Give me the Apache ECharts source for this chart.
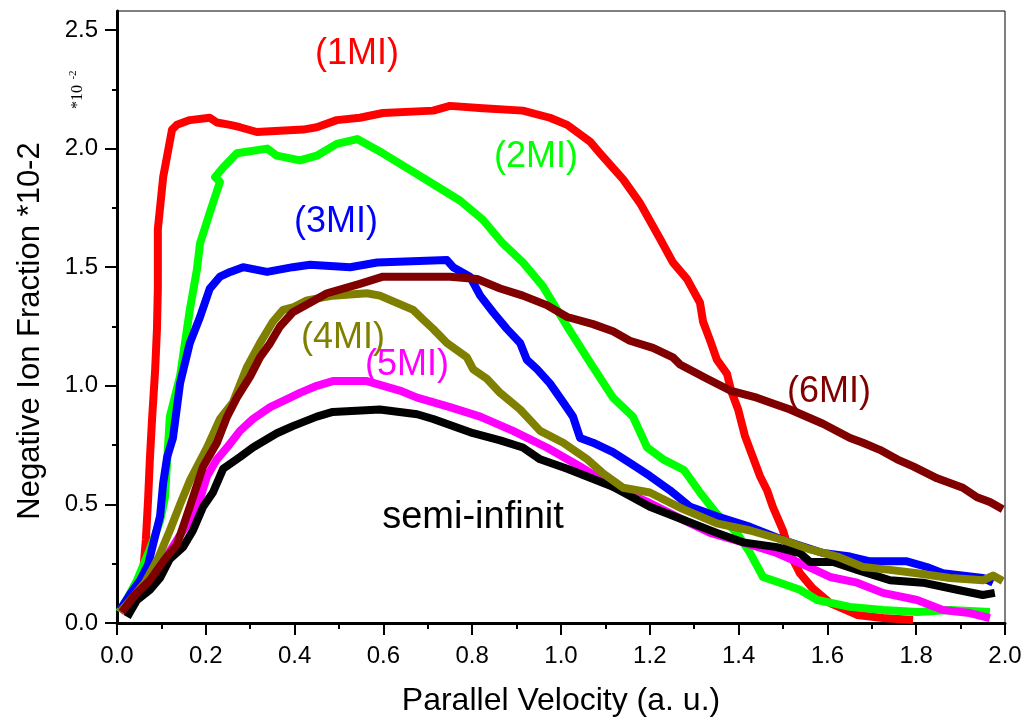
<!DOCTYPE html>
<html>
<head>
<meta charset="utf-8">
<script src="https://cdn.jsdelivr.net/npm/echarts@6/dist/echarts.min.js"></script>
<style>
  html, body { margin: 0; padding: 0; background: #fff; }
  #chart { width: 1028px; height: 722px; }
</style>
</head>
<body>
<div id="chart"></div>
<script>
// [velocity, fraction*10^-2]
var mi1 = [[0.018,0.076],[0.041,0.14],[0.059,0.22],[0.065,0.35],[0.07,0.52],[0.074,0.69],[0.079,0.86],[0.086,1.07],[0.09,1.24],[0.092,1.41],[0.092,1.66],[0.104,1.88],[0.113,1.97],[0.124,2.08],[0.135,2.10],[0.164,2.12],[0.209,2.13],[0.225,2.11],[0.255,2.10],[0.277,2.09],[0.315,2.07],[0.419,2.08],[0.45,2.09],[0.495,2.12],[0.547,2.13],[0.599,2.15],[0.712,2.16],[0.75,2.18],[0.824,2.17],[0.914,2.16],[0.975,2.13],[1.014,2.10],[1.065,2.03],[1.088,1.98],[1.14,1.87],[1.178,1.77],[1.223,1.62],[1.252,1.52],[1.284,1.45],[1.313,1.35],[1.32,1.27],[1.336,1.19],[1.351,1.11],[1.374,1.05],[1.383,0.98],[1.399,0.90],[1.414,0.79],[1.43,0.71],[1.448,0.62],[1.464,0.56],[1.477,0.49],[1.5,0.39],[1.516,0.29],[1.538,0.21],[1.565,0.15],[1.606,0.084],[1.667,0.034],[1.725,0.021],[1.793,0.013]];
var mi2 = [[0.005,0.046],[0.025,0.11],[0.045,0.18],[0.074,0.31],[0.097,0.43],[0.108,0.53],[0.119,0.87],[0.142,1.04],[0.164,1.32],[0.18,1.49],[0.187,1.60],[0.209,1.73],[0.232,1.86],[0.221,1.88],[0.239,1.92],[0.27,1.98],[0.338,2.00],[0.36,1.97],[0.412,1.95],[0.45,1.97],[0.495,2.02],[0.541,2.04],[0.599,1.98],[0.66,1.91],[0.721,1.84],[0.773,1.78],[0.824,1.70],[0.869,1.60],[0.914,1.52],[0.959,1.42],[1.014,1.25],[1.065,1.10],[1.117,0.95],[1.162,0.87],[1.194,0.74],[1.23,0.69],[1.277,0.645],[1.313,0.55],[1.351,0.46],[1.396,0.38],[1.426,0.295],[1.455,0.194],[1.493,0.17],[1.538,0.14],[1.577,0.097],[1.651,0.068],[1.725,0.055],[1.802,0.046],[1.876,0.055],[1.966,0.046]];
var mi3 = [[0.007,0.055],[0.029,0.12],[0.052,0.18],[0.07,0.245],[0.081,0.33],[0.097,0.45],[0.104,0.59],[0.113,0.70],[0.126,0.78],[0.142,1.01],[0.164,1.18],[0.187,1.29],[0.209,1.41],[0.232,1.46],[0.255,1.48],[0.284,1.50],[0.338,1.48],[0.396,1.50],[0.435,1.51],[0.525,1.50],[0.586,1.52],[0.743,1.53],[0.757,1.50],[0.795,1.46],[0.818,1.38],[0.847,1.31],[0.878,1.24],[0.908,1.18],[0.923,1.11],[0.946,1.07],[0.975,1.01],[1.005,0.93],[1.027,0.87],[1.043,0.78],[1.072,0.76],[1.117,0.72],[1.155,0.675],[1.2,0.62],[1.245,0.56],[1.291,0.49],[1.351,0.45],[1.426,0.405],[1.5,0.35],[1.59,0.295],[1.651,0.28],[1.696,0.26],[1.779,0.26],[1.824,0.236],[1.86,0.21],[1.95,0.19],[1.973,0.17]];
var mi4 = [[0.007,0.046],[0.034,0.105],[0.063,0.17],[0.092,0.27],[0.119,0.39],[0.142,0.50],[0.164,0.60],[0.203,0.74],[0.232,0.86],[0.261,0.93],[0.293,1.08],[0.322,1.18],[0.351,1.27],[0.374,1.32],[0.396,1.33],[0.428,1.36],[0.486,1.38],[0.563,1.39],[0.592,1.38],[0.667,1.32],[0.689,1.28],[0.712,1.24],[0.743,1.18],[0.788,1.12],[0.802,1.07],[0.833,1.03],[0.863,0.97],[0.908,0.90],[0.953,0.81],[1.005,0.76],[1.059,0.69],[1.095,0.63],[1.14,0.57],[1.2,0.55],[1.275,0.48],[1.351,0.42],[1.426,0.39],[1.5,0.35],[1.561,0.31],[1.622,0.28],[1.68,0.236],[1.741,0.224],[1.802,0.21],[1.876,0.19],[1.95,0.18],[1.973,0.20],[1.995,0.177]];
var mi5 = [[0.007,0.046],[0.036,0.105],[0.074,0.18],[0.108,0.27],[0.142,0.37],[0.164,0.43],[0.18,0.48],[0.203,0.62],[0.225,0.69],[0.248,0.74],[0.277,0.81],[0.306,0.86],[0.345,0.91],[0.39,0.95],[0.412,0.97],[0.45,1.00],[0.486,1.02],[0.563,1.02],[0.637,0.98],[0.676,0.95],[0.75,0.91],[0.818,0.87],[0.892,0.81],[0.968,0.74],[1.043,0.66],[1.117,0.574],[1.2,0.506],[1.275,0.435],[1.336,0.38],[1.41,0.34],[1.486,0.295],[1.538,0.253],[1.606,0.194],[1.667,0.17],[1.725,0.127],[1.802,0.097],[1.86,0.055],[1.921,0.042],[1.966,0.021]];
var mi6 = [[0.011,0.046],[0.041,0.12],[0.074,0.18],[0.108,0.27],[0.135,0.33],[0.164,0.49],[0.194,0.66],[0.225,0.76],[0.248,0.87],[0.27,0.95],[0.30,1.04],[0.322,1.12],[0.345,1.18],[0.367,1.25],[0.396,1.31],[0.435,1.35],[0.473,1.39],[0.547,1.43],[0.599,1.46],[0.676,1.46],[0.75,1.46],[0.811,1.45],[0.863,1.41],[0.914,1.38],[0.968,1.34],[1.014,1.29],[1.072,1.26],[1.117,1.23],[1.155,1.19],[1.207,1.16],[1.252,1.12],[1.268,1.09],[1.329,1.03],[1.381,0.98],[1.441,0.95],[1.471,0.93],[1.516,0.90],[1.59,0.84],[1.651,0.78],[1.68,0.76],[1.718,0.73],[1.757,0.69],[1.793,0.66],[1.847,0.61],[1.905,0.57],[1.937,0.53],[1.966,0.51],[1.995,0.48]];
var semiInf = [[0.023,0.025],[0.045,0.097],[0.074,0.14],[0.097,0.19],[0.119,0.27],[0.149,0.32],[0.171,0.39],[0.194,0.49],[0.216,0.55],[0.239,0.65],[0.277,0.70],[0.306,0.74],[0.36,0.80],[0.396,0.83],[0.45,0.87],[0.486,0.89],[0.592,0.90],[0.676,0.88],[0.712,0.86],[0.802,0.80],[0.863,0.77],[0.914,0.74],[0.953,0.69],[1.014,0.65],[1.117,0.574],[1.2,0.49],[1.275,0.435],[1.351,0.38],[1.41,0.34],[1.486,0.32],[1.538,0.295],[1.561,0.257],[1.613,0.257],[1.667,0.224],[1.741,0.18],[1.815,0.17],[1.892,0.14],[1.95,0.118],[1.977,0.127]];

var yTicks = [0, 0.5, 1.0, 1.5, 2.0, 2.5];
var yMinorTicks = [0.25, 0.75, 1.25, 1.75, 2.25];

var chart = echarts.init(document.getElementById('chart'));
var font = 'Liberation Sans, Arial, sans-serif';

function line(name, data, color) {
  return {
    name: name,
    type: 'line',
    data: data,
    showSymbol: false,
    symbol: 'none',
    lineStyle: { color: color, width: 8, cap: 'butt', join: 'round' }
  };
}

function label(text, x, y, color, size) {
  return {
    type: 'text', x: x, y: y, z: 100,
    style: { text: text, fill: color, font: size + 'px ' + font, align: 'center', verticalAlign: 'middle' }
  };
}

chart.setOption({
  animation: false,
  backgroundColor: '#fff',
  grid: { left: 117, right: 23, top: 11, bottom: 99, show: true, borderColor: '#000', borderWidth: 1 },
  xAxis: {
    type: 'value', min: 0, max: 2, interval: 0.2,
    name: 'Parallel Velocity (a. u.)', nameLocation: 'middle', nameGap: 62,
    nameTextStyle: { fontFamily: font, fontSize: 32, color: '#000' },
    axisLine: { show: true, onZero: false, lineStyle: { color: '#000', width: 3 } },
    axisTick: { show: true, length: 12, lineStyle: { color: '#000', width: 2 } },
    minorTick: { show: true, splitNumber: 2, length: 6, lineStyle: { color: '#000', width: 2 } },
    axisLabel: { margin: 21, fontFamily: font, fontSize: 24, color: '#000', formatter: function (v) { return v.toFixed(1); } },
    splitLine: { show: false }
  },
  yAxis: [{
    type: 'value', min: 0, max: 2.58,
    axisLine: { show: true, onZero: false, lineStyle: { color: '#000', width: 3 } },
    axisTick: { show: true, length: 12, customValues: yTicks, lineStyle: { color: '#000', width: 2 } },
    axisLabel: { margin: 19, fontFamily: font, fontSize: 24, color: '#000', customValues: yTicks, formatter: function (v) { return v.toFixed(1); } },
    splitLine: { show: false }
  }, {
    type: 'value', min: 0, max: 2.58, position: 'left', offset: 0,
    axisLine: { show: false },
    axisTick: { show: true, length: 5, customValues: yMinorTicks, lineStyle: { color: '#000', width: 2 } },
    axisLabel: { show: false },
    splitLine: { show: false }
  }],
  series: [
    line('(1MI)', mi1, '#ff0000'),
    line('(2MI)', mi2, '#00ff00'),
    line('(3MI)', mi3, '#0000ff'),
    line('(5MI)', mi5, '#ff00ff'),
    line('semi-infinit', semiInf, '#000000'),
    line('(4MI)', mi4, '#808000'),
    line('(6MI)', mi6, '#800000')
  ],
  graphic: [
    {
      type: 'text', x: 30, y: 331, rotation: Math.PI / 2,
      style: { text: 'Negative Ion Fraction *10-2', fill: '#000', font: '31px ' + font, align: 'center', verticalAlign: 'middle' }
    },
    {
      type: 'text', x: 78, y: 97, rotation: Math.PI / 2,
      style: { text: '*10', fill: '#000', font: '16px Liberation Serif, serif', align: 'center', verticalAlign: 'middle' }
    },
    {
      type: 'text', x: 73, y: 75, rotation: Math.PI / 2,
      style: { text: '-2', fill: '#000', font: '11px Liberation Serif, serif', align: 'center', verticalAlign: 'middle' }
    },
    label('(1MI)', 357, 54, '#ff0000', 36),
    label('(2MI)', 536, 157, '#00ff00', 36),
    label('(3MI)', 336, 222, '#0000ff', 36),
    label('(4MI)', 343, 338, '#808000', 36),
    label('(5MI)', 407, 365, '#ff00ff', 36),
    label('(6MI)', 829, 392, '#800000', 36),
    label('semi-infinit', 473, 518, '#000000', 38)
  ]
});
</script>
</body>
</html>
